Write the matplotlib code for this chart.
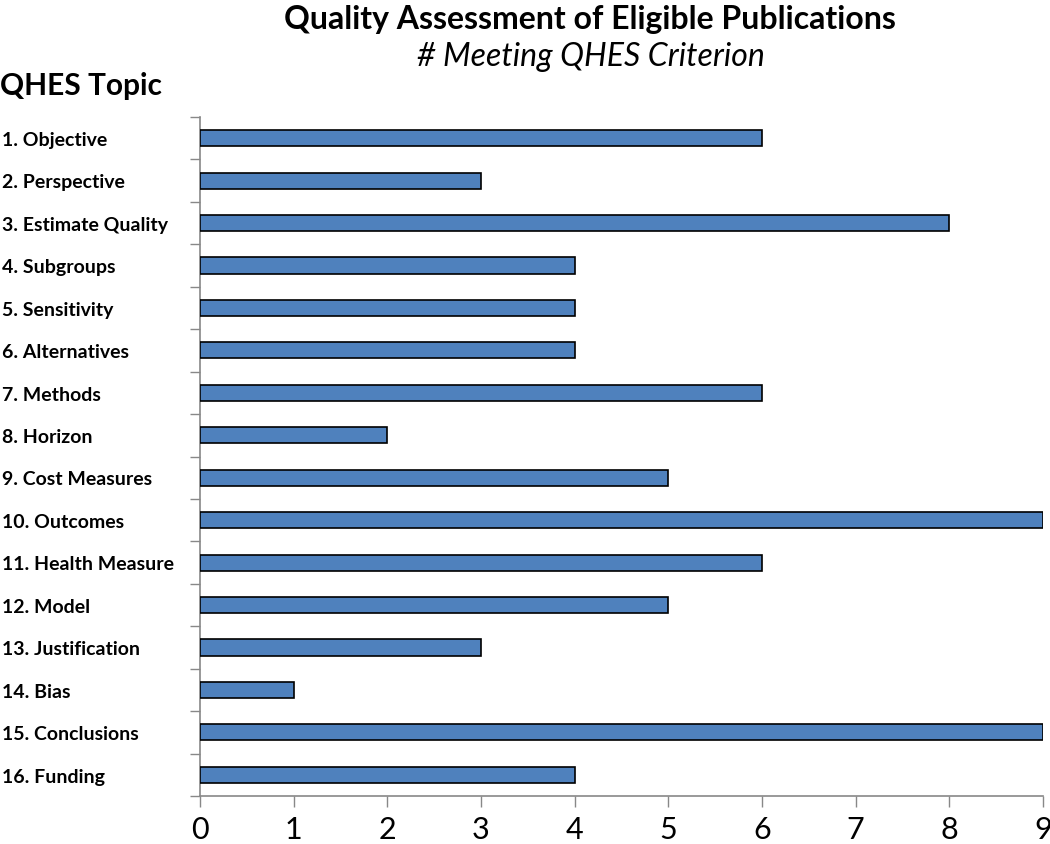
import matplotlib
matplotlib.use("Agg")
import matplotlib.pyplot as plt
from matplotlib.transforms import blended_transform_factory

categories = ["1. Objective", "2. Perspective", "3. Estimate Quality", "4. Subgroups",
              "5. Sensitivity", "6. Alternatives", "7. Methods", "8. Horizon",
              "9. Cost Measures", "10. Outcomes", "11. Health Measure", "12. Model",
              "13. Justification", "14. Bias", "15. Conclusions", "16. Funding"]
values = [6, 3, 8, 4, 4, 4, 6, 2, 5, 9, 6, 5, 3, 1, 9, 4]
xticks = list(range(0, 10))

plt.rcParams['font.family'] = ['Lato', 'DejaVu Sans']

fig = plt.figure(figsize=(10.5, 8.45), dpi=100)
ax = fig.add_axes([200/1050, 1-797/845, 843/1050, (797-118)/845])

n = len(categories)
pos = list(range(n))
ax.barh(pos, values, height=0.38, color="#4F81BD", edgecolor="black", linewidth=1.2, zorder=3)
ax.set_ylim(n - 0.5, -0.5)
ax.set_xlim(0, 9)

ax.set_yticks([i - 0.5 for i in range(n + 1)])
ax.set_yticklabels([])
ax.tick_params(axis='y', direction='out', length=7, color='#888888', width=1)
ax.set_xticks(xticks)
ax.set_xticklabels([str(x) for x in xticks], fontsize=22)
ax.tick_params(axis='x', direction='out', length=8, color='#888888', width=1, pad=6)

for s in ['top', 'right']:
    ax.spines[s].set_visible(False)
for s in ['left', 'bottom']:
    ax.spines[s].set_color('#888888')
    ax.spines[s].set_linewidth(1.2)

trans = blended_transform_factory(fig.transFigure, ax.transData)
for i, c in enumerate(categories):
    fig.text(2/1050, i + 0.03, c, transform=trans, ha='left', va='center',
             fontsize=14, fontweight='bold')

fig.text(590/1050, 1-20/845, "Quality Assessment of Eligible Publications",
         ha='center', va='center', fontsize=23, fontweight='bold')
fig.text(591/1050, 1-57/845, "# Meeting QHES Criterion",
         ha='center', va='center', fontsize=23, style='italic')
fig.text(0, 1-86/845, "QHES Topic", ha='left', va='center', fontsize=21.5, fontweight='bold')

fig.savefig("out.png", dpi=100)
